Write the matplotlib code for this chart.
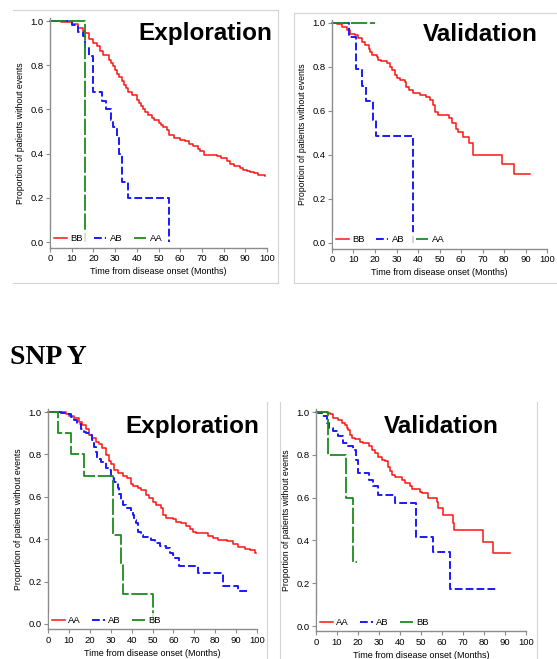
import matplotlib
matplotlib.use("Agg")
import matplotlib.pyplot as plt
from matplotlib.lines import Line2D
from matplotlib.ticker import FormatStrFormatter

plt.rcParams['font.family'] = ['Liberation Sans', 'DejaVu Sans']

# SNP X - exploration
x_exp_bb_t = [0, 5, 10, 13, 15, 16, 18, 20, 21.5, 23, 24.6, 27, 28, 29, 30, 31, 32, 33, 34, 35, 36, 38, 40,
              41, 42, 43, 44, 45, 47, 48, 50, 51, 52, 54, 55, 57, 60, 62, 64, 66, 68, 69, 71, 77, 79, 81.5,
              83, 84.6, 87.7, 89, 91, 92, 94, 96, 99]
x_exp_bb_s = [1.0, 0.995, 0.985, 0.97, 0.955, 0.945, 0.92, 0.9, 0.885, 0.865, 0.848, 0.825, 0.81, 0.795,
              0.78, 0.76, 0.745, 0.727, 0.71, 0.695, 0.68, 0.665, 0.644, 0.63, 0.615, 0.6, 0.59, 0.575,
              0.56, 0.55, 0.54, 0.53, 0.52, 0.505, 0.486, 0.47, 0.46, 0.455, 0.445, 0.433, 0.42, 0.41,
              0.395, 0.388, 0.378, 0.365, 0.355, 0.342, 0.335, 0.327, 0.32, 0.315, 0.31, 0.305, 0.30]
x_exp_ab_t = [0, 10, 13, 15, 16, 18, 20, 24, 26, 28, 29, 31, 32, 33, 36, 55]
x_exp_ab_s = [1.0, 0.98, 0.95, 0.93, 0.88, 0.84, 0.68, 0.64, 0.60, 0.55, 0.52, 0.47, 0.40, 0.27, 0.20, 0.0]
x_exp_aa_t = [0, 16]
x_exp_aa_s = [1.0, 0.0]

# SNP X - validation
x_val_bb_t = [0, 2.3, 4.6, 7, 8.5, 10.8, 12.3, 13.8, 15.4, 17, 17.7, 18.5, 20.8, 21.5, 23, 25.4, 27, 28,
              29.2, 30, 31.5, 33.8, 34.6, 36, 37.7, 40.8, 43.8, 45.4, 47, 47.7, 49.2, 54.6, 56, 57.7,
              58.5, 60.8, 63.8, 65.4, 65.8, 79, 84.6, 92.3]
x_val_bb_s = [1.0, 0.994, 0.98, 0.967, 0.95, 0.944, 0.93, 0.914, 0.9, 0.884, 0.87, 0.856, 0.846, 0.83,
              0.826, 0.816, 0.8, 0.785, 0.763, 0.748, 0.74, 0.733, 0.71, 0.695, 0.68, 0.672, 0.665, 0.65,
              0.627, 0.597, 0.58, 0.566, 0.544, 0.52, 0.506, 0.483, 0.453, 0.43, 0.40, 0.358, 0.314, 0.314]
x_val_ab_t = [0, 8, 11, 14, 16, 19, 20.5, 37.5]
x_val_ab_s = [1.0, 0.935, 0.79, 0.715, 0.645, 0.56, 0.485, 0.0]
x_val_aa_t = [0, 20]
x_val_aa_s = [1.0, 1.0]

# SNP Y - exploration
y_exp_aa_t = [0, 8.4, 10, 12.4, 14.8, 16.4, 18, 19.6, 21.2, 22.8, 24.4, 26, 27.7, 29.3, 30, 31.7, 33.3,
              35.7, 38, 39.7, 40.5, 43, 44.5, 47, 48.5, 50, 51.8, 54, 55, 56.6, 59.8, 61.4, 63.8, 66.2,
              67.8, 69.5, 71, 76.7, 79, 81.5, 85.5, 88.7, 91, 94.4, 96.8, 99, 99.5]
y_exp_aa_s = [1.0, 0.99, 0.98, 0.97, 0.953, 0.937, 0.92, 0.89, 0.875, 0.86, 0.85, 0.828, 0.796, 0.77,
              0.757, 0.726, 0.713, 0.70, 0.687, 0.66, 0.65, 0.64, 0.63, 0.608, 0.592, 0.577, 0.56, 0.545,
              0.514, 0.50, 0.495, 0.483, 0.475, 0.46, 0.45, 0.436, 0.428, 0.417, 0.405, 0.396, 0.39,
              0.376, 0.365, 0.353, 0.35, 0.335, 0.335]
y_exp_ab_t = [0, 6, 8.4, 10.8, 12.4, 14, 15.6, 17.2, 18, 20.4, 21.2, 22, 22.8, 23.6, 25.2, 27.7, 29.3,
              30, 31.7, 33.3, 34, 34.8, 35.7, 37.3, 39.7, 40.5, 41.3, 42, 43, 44.5, 45.3, 49.4, 51, 53.4,
              56.6, 58.2, 59.8, 60.6, 62.5, 72, 83.5, 91, 96]
y_exp_ab_s = [1.0, 0.995, 0.99, 0.976, 0.96, 0.945, 0.92, 0.906, 0.9, 0.89, 0.867, 0.835, 0.81, 0.78,
              0.765, 0.738, 0.726, 0.687, 0.67, 0.64, 0.615, 0.585, 0.56, 0.545, 0.53, 0.514, 0.49, 0.475,
              0.436, 0.42, 0.41, 0.397, 0.38, 0.368, 0.357, 0.334, 0.326, 0.31, 0.275, 0.24, 0.177,
              0.157, 0.157]
y_exp_bb_t = [0, 5, 11, 17, 31, 35, 36, 50]
y_exp_bb_s = [1.0, 0.9, 0.8, 0.7, 0.42, 0.28, 0.14, 0.0]

# SNP Y - validation
y_val_aa_t = [0, 5, 6.7, 8.3, 10.6, 12.2, 13.8, 14.6, 15.4, 16.2, 17, 18.6, 21, 22.5, 25, 26.5, 28, 29.7,
              31.3, 32.9, 34.4, 35.2, 36, 37.6, 40.8, 42.4, 44.8, 45.6, 49.5, 50.3, 53.5, 57.5, 58.3,
              60.6, 65.4, 65.9, 79.4, 84.4, 92.4]
y_val_aa_s = [1.0, 0.997, 0.992, 0.97, 0.964, 0.948, 0.94, 0.925, 0.917, 0.894, 0.878, 0.873, 0.862,
              0.855, 0.84, 0.823, 0.808, 0.792, 0.777, 0.77, 0.745, 0.722, 0.706, 0.695, 0.683, 0.667,
              0.652, 0.64, 0.628, 0.62, 0.597, 0.58, 0.55, 0.519, 0.48, 0.45, 0.394, 0.34, 0.34]
y_val_ab_t = [0, 1, 2.7, 5, 6.3, 8.3, 10.6, 13, 15.4, 17.8, 19, 20.2, 25, 27.3, 29.7, 37.6, 47.6, 55.9,
              64, 86.8]
y_val_ab_s = [1.0, 0.995, 0.98, 0.95, 0.925, 0.91, 0.886, 0.855, 0.84, 0.823, 0.777, 0.714, 0.683,
              0.652, 0.612, 0.573, 0.414, 0.345, 0.172, 0.172]
y_val_bb_t = [0, 5.9, 14.1, 17.5, 19.4]
y_val_bb_s = [1.0, 0.8, 0.6, 0.3, 0.3]

RED = '#ff1414'
BLUE = '#1a1aff'
GREEN = '#1f8a1f'

W, H = 557, 659
fig = plt.figure(figsize=(W / 100, H / 100), dpi=100)


def place(x0, x1, y0, y1):
    # pixel positions of x=0, x=100, y=0, y=1
    unit = y0 - y1
    bot = y0 + 0.025 * unit
    top = y1 - 0.012 * unit
    ax = fig.add_axes([x0 / W, 1 - bot / H, (x1 - x0) / W, (bot - top) / H])
    ax.set_xlim(0, 100)
    ax.set_ylim(-0.025, 1.012)
    ax.set_xticks(range(0, 101, 10))
    ax.set_yticks([0, 0.2, 0.4, 0.6, 0.8, 1.0])
    ax.yaxis.set_major_formatter(FormatStrFormatter('%.1f'))
    for s in ['top', 'right']:
        ax.spines[s].set_visible(False)
    for s in ['left', 'bottom']:
        ax.spines[s].set_color('#8c8c8c')
        ax.spines[s].set_linewidth(1.0)
    ax.tick_params(direction='out', length=3, width=0.8, color='#8c8c8c', labelsize=6.8, pad=1.5)
    ax.set_xlabel('Time from disease onset (Months)', fontsize=6.5, labelpad=3)
    ax.set_ylabel('Proportion of patients without events', fontsize=6.3, labelpad=4)
    ax.patch.set_alpha(0)
    return ax


def draw(ax, curves):
    handles = []
    for t, s, color, style, label in curves:
        ln, = ax.step(t, s, where='post', color=color, lw=1.1, clip_on=False, label=label)
        if style == 'dash':
            ln.set_dashes((4, 1.6))
            ln.set_linewidth(1.4)
        elif style == 'long':
            ln.set_dashes((9, 1.5))
            ln.set_linewidth(1.3)
        handles.append(ln)
    leg = ax.legend(handles=handles, loc='lower left', bbox_to_anchor=(0.0, 0.0), ncol=3,
                    fontsize=6.8, frameon=True, fancybox=False, borderpad=0.3, handlelength=1.3,
                    handletextpad=0.35, columnspacing=1.25, borderaxespad=0.15)
    leg.get_frame().set_facecolor('white')
    leg.get_frame().set_edgecolor('none')
    leg.set_zorder(5)


ax1 = place(50, 267, 242, 21)
draw(ax1, [(x_exp_bb_t, x_exp_bb_s, RED, 'solid', 'BB'),
           (x_exp_ab_t, x_exp_ab_s, BLUE, 'dash', 'AB'),
           (x_exp_aa_t, x_exp_aa_s, GREEN, 'long', 'AA')])

ax2 = place(332, 547, 243, 23)
draw(ax2, [(x_val_bb_t, x_val_bb_s, RED, 'solid', 'BB'),
           (x_val_ab_t, x_val_ab_s, BLUE, 'dash', 'AB'),
           (x_val_aa_t, x_val_aa_s, GREEN, 'long', 'AA')])

ax3 = place(48, 257, 624, 412)
draw(ax3, [(y_exp_aa_t, y_exp_aa_s, RED, 'solid', 'AA'),
           (y_exp_ab_t, y_exp_ab_s, BLUE, 'dash', 'AB'),
           (y_exp_bb_t, y_exp_bb_s, GREEN, 'long', 'BB')])

ax4 = place(316, 526, 626, 412)
draw(ax4, [(y_val_aa_t, y_val_aa_s, RED, 'solid', 'AA'),
           (y_val_ab_t, y_val_ab_s, BLUE, 'dash', 'AB'),
           (y_val_bb_t, y_val_bb_s, GREEN, 'long', 'BB')])

# panel titles
for txt, x, y in [('Exploration', 272, 40), ('Validation', 538, 41),
                  ('Exploration', 259, 433), ('Validation', 499, 433)]:
    fig.text(x / W, 1 - y / H, txt, ha='right', va='baseline', fontsize=17.5, fontweight='bold')

fig.text(10 / W, 1 - 364 / H, 'SNP Y', ha='left', va='baseline', fontsize=20, fontweight='bold',
         family=['Liberation Serif', 'DejaVu Serif'])

# faint frames from the pasted panels
frame = '#d4d4d4'
for xs, ys in [([13, 278], [10, 10]), ([278, 278], [10, 283]), ([13, 278], [283, 283]),
               ([294, 557], [13, 13]), ([294, 294], [13, 283]), ([294, 557], [283, 283]),
               ([267, 267], [402, 659]), ([280, 280], [402, 659]), ([537, 537], [402, 659])]:
    fig.add_artist(Line2D([x / W for x in xs], [1 - y / H for y in ys], color=frame, lw=0.8))

fig.savefig('out.png', dpi=100, facecolor='white')
